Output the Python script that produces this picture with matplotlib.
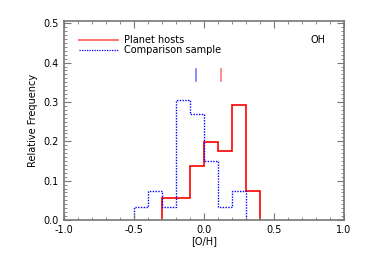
import numpy as np
import matplotlib
matplotlib.use("Agg")
from matplotlib import pyplot as plt
from matplotlib.ticker import MultipleLocator

# histogram bins of [O/H], width 0.1
host_edges = [-0.3, -0.2, -0.1, 0.0, 0.1, 0.2, 0.3, 0.4]
host_freq = [0.057, 0.057, 0.136, 0.197, 0.175, 0.293, 0.075]

comp_edges = [-0.5, -0.4, -0.3, -0.2, -0.1, 0.0, 0.1, 0.2, 0.3]
comp_freq = [0.034, 0.075, 0.034, 0.306, 0.270, 0.151, 0.034, 0.075]

host_mean = 0.12
comp_mean = -0.057

plt.rcParams['font.family'] = 'DejaVu Sans'
fig = plt.figure(figsize=(3.65, 2.61), dpi=100)
ax = fig.add_axes([0.175, 0.157, 0.767, 0.763])

ax.stairs(host_freq, host_edges, color='red', lw=1.2)
ax.stairs(comp_freq, comp_edges, color='blue', lw=1.0, ls=(0, (1, 1)))

ax.plot([comp_mean, comp_mean], [0.352, 0.383], color='#7777ff', lw=1.2)
ax.plot([host_mean, host_mean], [0.352, 0.383], color='#ff7777', lw=1.2)

ax.plot([-0.89, -0.61], [0.457, 0.457], color='#ff6666', lw=1.3)
ax.plot([-0.89, -0.61], [0.432, 0.432], color='blue', lw=0.9, ls=(0, (1, 1)))
ax.text(-0.57, 0.457, 'Planet hosts', fontsize=7, va='center')
ax.text(-0.57, 0.432, 'Comparison sample', fontsize=7, va='center')
ax.text(0.76, 0.457, 'OH', fontsize=7, va='center')

ax.set_xlim(-1.0, 1.0)
ax.set_ylim(0, 0.506)
ax.xaxis.set_major_locator(MultipleLocator(0.5))
ax.xaxis.set_minor_locator(MultipleLocator(0.1))
ax.yaxis.set_major_locator(MultipleLocator(0.1))
ax.yaxis.set_minor_locator(MultipleLocator(0.01))
ax.xaxis.set_major_formatter(matplotlib.ticker.FormatStrFormatter('%.1f'))
ax.yaxis.set_major_formatter(matplotlib.ticker.FormatStrFormatter('%.1f'))
ax.tick_params(which='both', direction='in', top=True, right=True,
               color='#777777', labelsize=7)
ax.tick_params(which='major', length=5)
ax.tick_params(which='minor', length=2.5)
for s in ax.spines.values():
    s.set_color('#777777')
    s.set_linewidth(1.2)

ax.set_xlabel('[O/H]', fontsize=7, labelpad=1)
ax.set_ylabel('Relative Frequency', fontsize=7, labelpad=4)

fig.savefig('out.png', dpi=100)
